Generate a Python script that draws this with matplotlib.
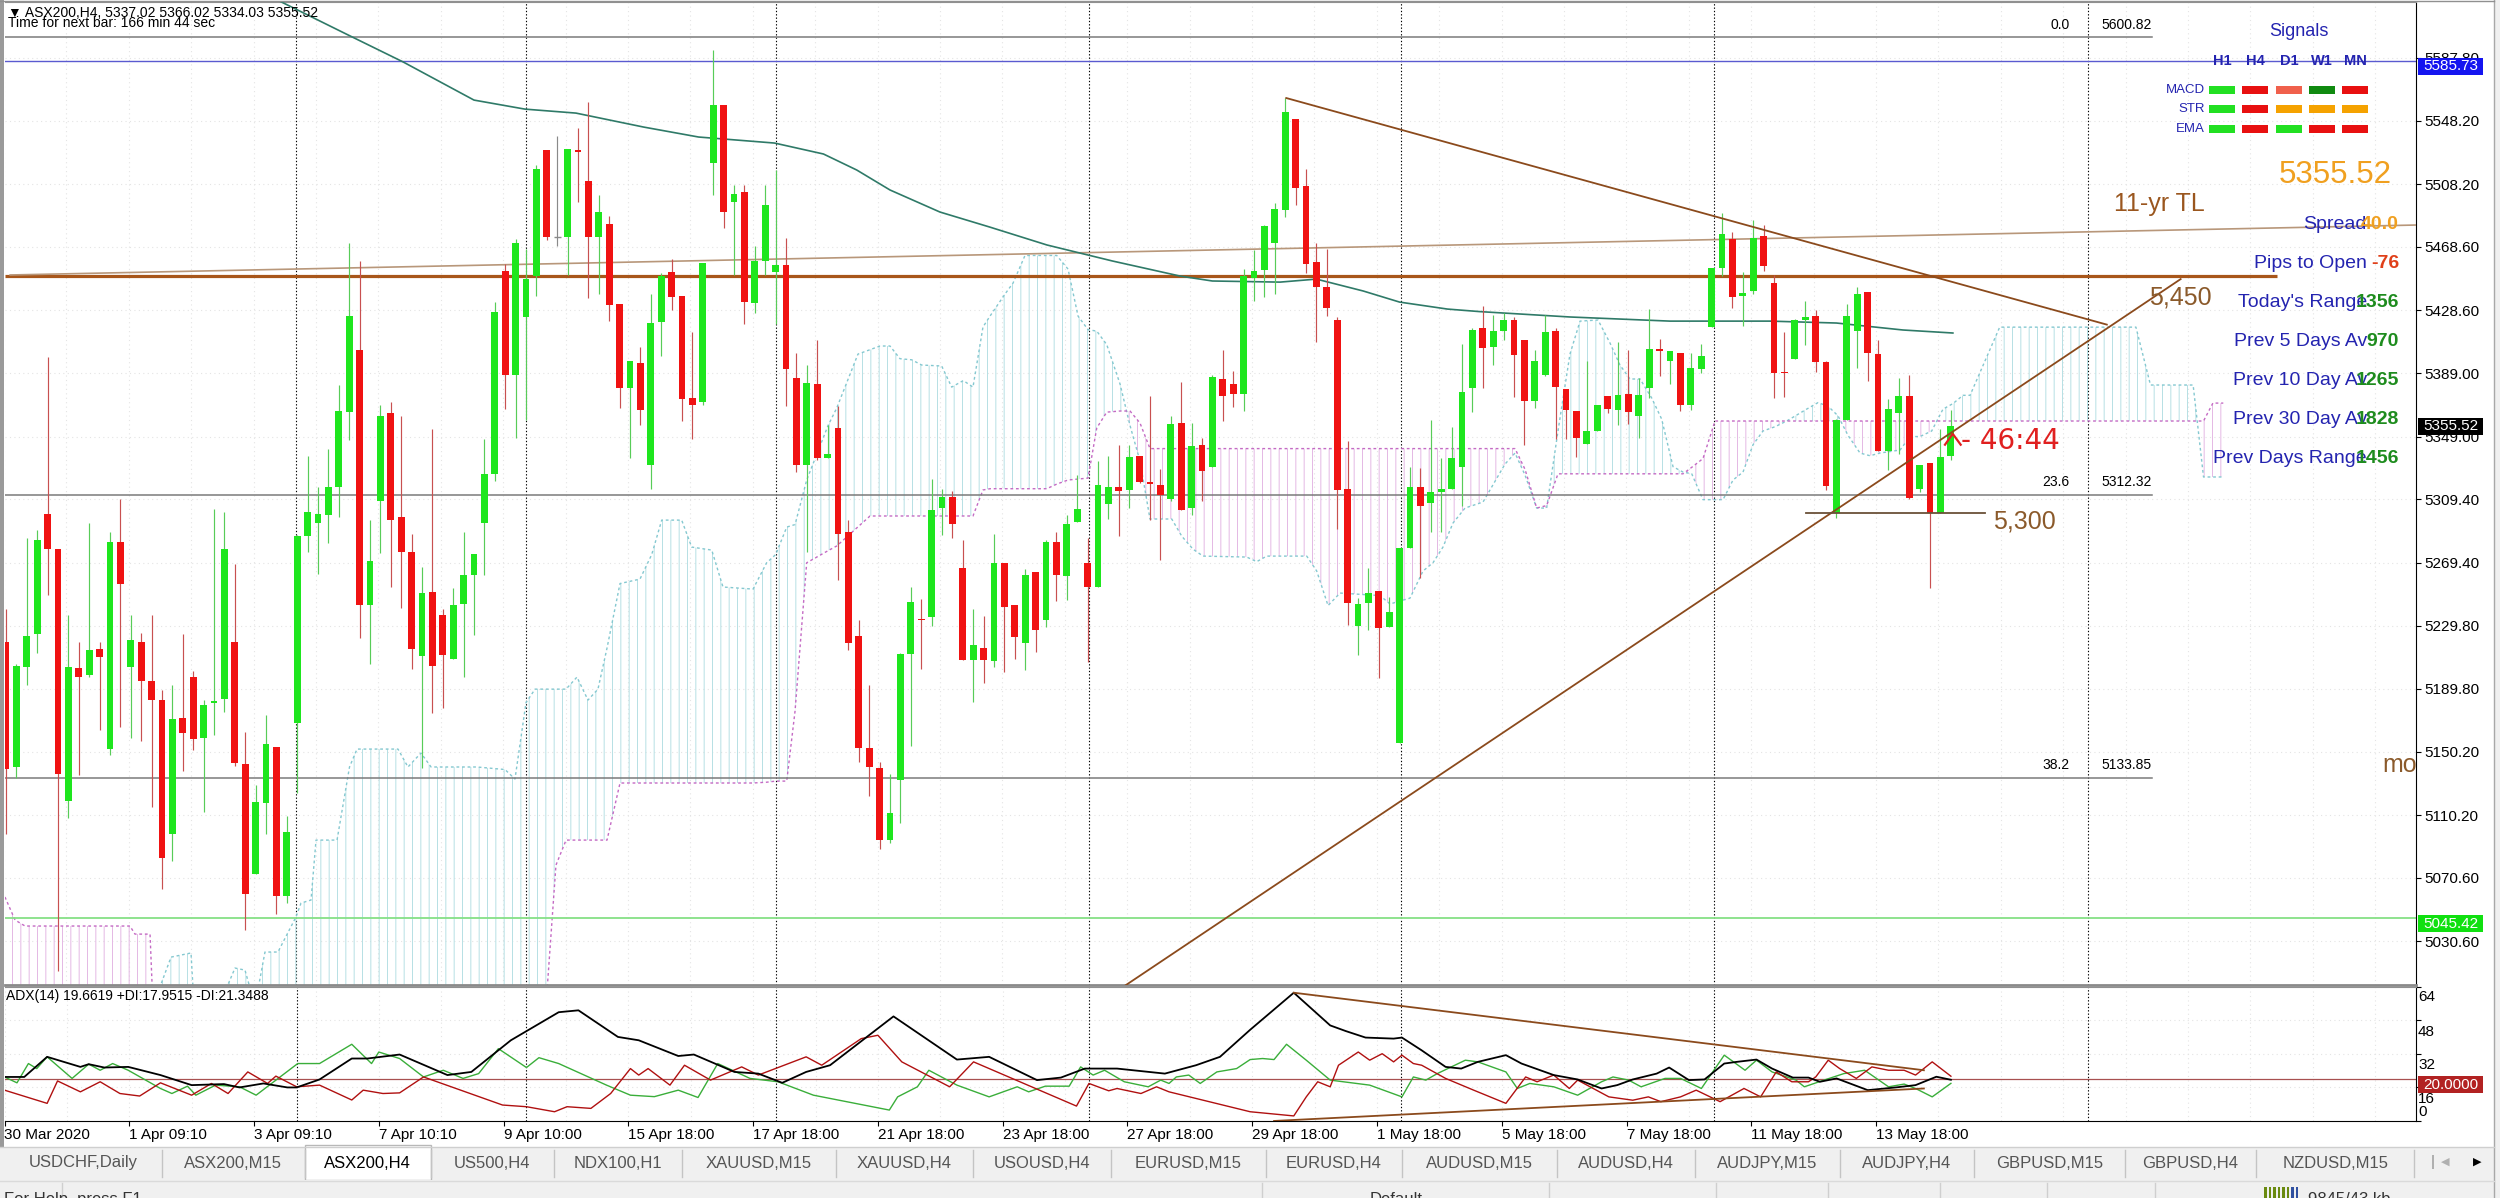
import numpy as np
import matplotlib
matplotlib.use("Agg")
import matplotlib.pyplot as plt
from matplotlib.patches import Rectangle
from matplotlib.lines import Line2D

plt.rcParams['font.family'] = ['Liberation Sans', 'DejaVu Sans']
plt.rcParams['hatch.linewidth'] = 0.7

# ---------------- data ----------------
opens = [
5219.4, 5140.8, 5203.4, 5224.2, 5299.9, 5278.2, 5119.0, 5203.1, 5198.6, 5214.9,
5151.9, 5282.3, 5203.8, 5219.4, 5195.1, 5183.0, 5098.3, 5171.6, 5197.6, 5158.8,
5181.0, 5183.7, 5219.4, 5142.5, 5073.4, 5118.0, 5152.9, 5059.5, 5168.5, 5286.1,
5294.4, 5299.6, 5317.2, 5364.6, 5403.7, 5242.9, 5308.6, 5363.9, 5298.2, 5276.4,
5210.7, 5251.2, 5236.7, 5209.0, 5243.6, 5261.9, 5294.4, 5325.5, 5453.5, 5387.8,
5424.5, 5450.1, 5529.6, 5474.6, 5474.6, 5529.6, 5509.9, 5474.6, 5483.3, 5432.8,
5379.5, 5395.4, 5331.1, 5421.4, 5452.8, 5437.9, 5373.3, 5370.8, 5521.3, 5558.3,
5497.1, 5503.0, 5433.5, 5459.8, 5452.8, 5457.0, 5386.1, 5331.1, 5381.9, 5335.2,
5354.3, 5288.5, 5223.5, 5152.6, 5139.8, 5094.8, 5132.2, 5211.7, 5234.2, 5234.9,
5304.1, 5311.0, 5266.0, 5208.3, 5215.9, 5207.2, 5269.5, 5242.5, 5218.7, 5263.3,
5233.2, 5282.7, 5260.9, 5295.4, 5269.5, 5253.9, 5306.5, 5317.2, 5315.2, 5337.0,
5320.3, 5318.6, 5309.3, 5357.7, 5304.1, 5343.9, 5330.1, 5385.4, 5381.9, 5375.7,
5448.7, 5453.9, 5470.8, 5491.9, 5549.0, 5507.1, 5459.1, 5443.2, 5422.7, 5316.2,
5229.7, 5244.3, 5251.5, 5228.7, 5156.0, 5278.8, 5317.2, 5306.9, 5313.8, 5316.2,
5330.0, 5379.5, 5417.6, 5405.4, 5415.5, 5422.4, 5409.6, 5371.5, 5388.1, 5415.5,
5379.2, 5365.3, 5344.6, 5352.5, 5374.3, 5365.6, 5375.7, 5362.2, 5379.5, 5404.4,
5396.4, 5402.0, 5369.1, 5391.6, 5418.3, 5455.6, 5473.6, 5437.9, 5440.7, 5475.3,
5445.9, 5389.5, 5398.2, 5422.7, 5425.2, 5395.8, 5300.6, 5359.4, 5415.8, 5440.0,
5400.9, 5339.7, 5363.6, 5374.3, 5316.2, 5332.5, 5300.6, 5337.02]
highs = [
5240.1, 5205.5, 5285.1, 5290.3, 5399.2, 5278.2, 5236.7, 5219.4, 5294.4, 5219.4,
5288.5, 5309.3, 5236.7, 5225.2, 5236.7, 5189.3, 5192.4, 5224.5, 5201.0, 5183.0,
5303.4, 5301.3, 5268.5, 5162.9, 5129.4, 5173.3, 5152.9, 5109.4, 5286.8, 5336.9,
5317.2, 5341.1, 5381.2, 5470.8, 5459.8, 5296.5, 5369.1, 5370.9, 5362.2, 5287.8,
5266.7, 5353.6, 5240.1, 5253.2, 5288.5, 5274.7, 5347.3, 5433.8, 5458.0, 5473.6,
5467.4, 5520.3, 5529.6, 5538.6, 5530.3, 5543.8, 5560.1, 5501.3, 5488.1, 5432.8,
5396.4, 5405.4, 5439.0, 5452.1, 5460.8, 5437.9, 5414.8, 5458.7, 5593.0, 5558.3,
5507.5, 5507.5, 5469.4, 5507.5, 5516.8, 5474.3, 5401.6, 5394.0, 5409.6, 5356.0,
5368.1, 5296.5, 5233.2, 5192.4, 5143.9, 5136.3, 5212.4, 5253.9, 5246.3, 5322.1,
5316.2, 5314.5, 5284.0, 5240.1, 5235.6, 5287.5, 5269.5, 5242.5, 5265.4, 5263.3,
5284.0, 5288.5, 5299.6, 5324.9, 5285.1, 5333.5, 5336.9, 5343.9, 5343.9, 5337.0,
5374.3, 5328.3, 5362.2, 5383.7, 5357.7, 5348.4, 5387.8, 5403.4, 5390.6, 5454.6,
5466.7, 5482.2, 5496.1, 5562.5, 5549.0, 5517.5, 5471.1, 5467.4, 5424.5, 5346.3,
5247.0, 5266.0, 5251.5, 5248.1, 5278.8, 5330.0, 5329.0, 5359.4, 5335.2, 5355.3,
5407.2, 5417.6, 5431.4, 5425.9, 5426.9, 5424.5, 5409.6, 5403.7, 5425.9, 5417.6,
5379.2, 5365.3, 5396.8, 5369.1, 5374.3, 5408.6, 5403.4, 5386.1, 5429.7, 5410.3,
5402.7, 5402.0, 5401.6, 5407.2, 5455.6, 5490.2, 5477.7, 5452.8, 5485.7, 5482.2,
5451.1, 5414.8, 5423.4, 5434.5, 5428.6, 5396.8, 5360.1, 5432.8, 5443.2, 5440.0,
5409.6, 5372.6, 5386.1, 5388.1, 5331.1, 5332.5, 5353.6, 5366.02]
lows = [
5098.3, 5133.9, 5192.4, 5212.4, 5248.8, 5012.0, 5108.7, 5135.3, 5197.6, 5164.0,
5148.4, 5165.7, 5158.8, 5157.1, 5115.6, 5063.7, 5081.0, 5138.1, 5151.2, 5112.1,
5160.5, 5175.4, 5141.5, 5037.8, 5073.4, 5098.3, 5048.1, 5055.0, 5124.2, 5276.4,
5262.6, 5281.6, 5298.2, 5346.6, 5221.8, 5205.5, 5275.7, 5253.9, 5241.1, 5202.7,
5139.8, 5174.4, 5177.8, 5209.0, 5197.6, 5223.8, 5261.9, 5320.7, 5366.3, 5348.4,
5359.4, 5437.9, 5472.9, 5469.4, 5451.1, 5497.1, 5436.2, 5439.0, 5421.7, 5367.0,
5335.2, 5356.0, 5316.2, 5399.9, 5428.6, 5358.7, 5347.3, 5369.1, 5501.3, 5480.5,
5451.1, 5420.0, 5426.9, 5451.1, 5420.0, 5368.1, 5326.6, 5276.4, 5334.5, 5335.2,
5258.4, 5214.2, 5143.9, 5122.5, 5088.9, 5092.4, 5105.2, 5153.6, 5202.7, 5229.7,
5286.8, 5285.1, 5208.3, 5181.3, 5193.4, 5203.8, 5200.3, 5209.0, 5202.0, 5213.1,
5228.7, 5245.3, 5246.0, 5295.4, 5206.6, 5253.9, 5297.2, 5286.1, 5304.1, 5319.7,
5296.5, 5271.2, 5308.3, 5302.4, 5299.6, 5308.3, 5330.1, 5358.7, 5367.4, 5365.3,
5434.5, 5437.3, 5439.0, 5487.4, 5495.0, 5452.1, 5408.9, 5425.2, 5291.0, 5230.4,
5211.4, 5227.3, 5196.9, 5228.7, 5156.0, 5278.8, 5259.8, 5288.5, 5288.5, 5316.2,
5305.1, 5364.6, 5379.5, 5394.0, 5409.6, 5374.0, 5343.9, 5367.0, 5387.1, 5347.3,
5347.3, 5335.9, 5344.6, 5352.5, 5363.6, 5356.0, 5356.7, 5348.4, 5373.3, 5387.1,
5381.9, 5365.3, 5365.6, 5388.8, 5418.3, 5450.1, 5430.3, 5418.9, 5439.0, 5453.5,
5373.3, 5374.0, 5398.2, 5406.8, 5389.9, 5315.2, 5297.9, 5359.4, 5392.3, 5384.3,
5339.7, 5327.6, 5338.0, 5309.3, 5313.8, 5253.2, 5300.6, 5334.03]
closes = [
5139.1, 5204.5, 5223.2, 5284.0, 5278.2, 5136.3, 5203.8, 5197.6, 5214.2, 5210.0,
5282.7, 5255.7, 5220.4, 5195.1, 5183.0, 5083.4, 5170.6, 5162.3, 5158.1, 5179.6,
5182.0, 5278.2, 5143.2, 5060.2, 5118.3, 5155.4, 5059.5, 5099.3, 5286.1, 5301.7,
5299.9, 5316.9, 5365.3, 5425.2, 5242.9, 5270.5, 5361.9, 5296.1, 5276.4, 5215.2,
5250.5, 5204.5, 5211.4, 5242.9, 5261.9, 5274.7, 5325.5, 5427.6, 5387.8, 5470.8,
5448.3, 5517.9, 5474.6, 5474.6, 5530.3, 5528.2, 5474.6, 5490.5, 5432.1, 5379.5,
5396.4, 5365.6, 5420.3, 5450.1, 5437.3, 5372.6, 5369.1, 5458.7, 5558.3, 5490.9,
5501.9, 5433.8, 5459.8, 5495.0, 5457.0, 5391.6, 5331.1, 5383.0, 5335.2, 5338.0,
5287.8, 5218.7, 5152.6, 5140.5, 5094.8, 5111.4, 5211.7, 5244.6, 5233.2, 5302.4,
5311.0, 5293.7, 5208.3, 5217.6, 5208.3, 5269.5, 5241.8, 5222.8, 5261.9, 5227.0,
5282.7, 5261.6, 5293.7, 5303.1, 5253.9, 5318.6, 5317.2, 5314.5, 5335.9, 5320.3,
5319.0, 5312.0, 5357.0, 5302.4, 5342.8, 5327.3, 5386.4, 5374.3, 5376.0, 5450.1,
5453.5, 5481.5, 5492.6, 5553.8, 5505.8, 5458.0, 5443.5, 5430.3, 5315.2, 5244.3,
5243.6, 5250.5, 5228.0, 5238.4, 5278.8, 5317.2, 5305.1, 5313.8, 5316.2, 5335.2,
5377.4, 5416.2, 5405.1, 5415.5, 5422.7, 5400.3, 5371.5, 5396.8, 5414.8, 5380.2,
5365.6, 5348.0, 5352.5, 5369.1, 5366.3, 5375.0, 5364.6, 5375.0, 5404.4, 5402.7,
5402.7, 5369.1, 5392.3, 5399.9, 5455.6, 5477.0, 5437.3, 5439.7, 5474.3, 5456.3,
5388.8, 5388.8, 5422.4, 5424.1, 5395.8, 5317.9, 5359.4, 5425.2, 5439.0, 5401.6,
5339.7, 5366.3, 5374.3, 5310.3, 5331.1, 5300.6, 5336.3, 5355.52]

# moving average (read at knots: bar index, price)
ema_bar = [26.1, 32.7, 38.2, 45.0, 49.9, 54.8, 61.3, 66.6, 73.9, 78.6, 81.8, 85.0, 89.8, 94.6,
           100.1, 106.4, 112.9, 116.0, 122.5, 126.0, 130.5, 134.0, 138.6, 141.7, 150.4, 160.0,
           169.6, 176.0, 182.4, 187.2]
ema_val = [5624.3, 5602.9, 5585.2, 5561.2, 5555.5, 5553.0, 5544.2, 5537.9, 5534.1, 5527.2,
           5517.1, 5504.5, 5490.6, 5481.1, 5469.8, 5459.7, 5450.2, 5447.1, 5446.4, 5448.3,
           5440.8, 5433.8, 5429.4, 5427.8, 5424.4, 5421.8, 5421.8, 5420.6, 5416.2, 5414.3]

# Ichimoku cloud (bar index, span A, span B); 4990 = below visible range
OFF = 4990.0
cloud_bar = [-0.10, 0.87, 1.83, 11.92, 12.40, 13.85, 14.13, 15.87, 17.79, 18.08, 20.48, 22.02,
             22.98, 23.94, 24.90, 26.15, 27.88, 28.37, 29.33, 29.81, 31.83, 33.03, 33.75, 37.69,
             38.65, 39.90, 40.87, 45.29, 47.98, 48.94, 50.0, 50.87, 51.92, 52.88, 53.85, 54.90,
             55.96, 56.92, 57.79, 59.04, 60.96, 62.09, 63.05, 64.97, 65.93, 67.86, 68.94, 71.83,
             73.14, 74.01, 75.07, 75.87, 76.99, 79.04, 79.88, 81.92, 83.08, 84.04, 85.0, 85.96,
             87.09, 88.05, 89.97, 90.93, 92.05, 92.98, 93.94, 94.62, 96.06, 96.83, 97.98, 100.07,
             101.03, 102.12, 103.08, 104.04, 104.88, 105.84, 107.12, 108.08, 109.04, 110.0, 112.09,
             113.05, 114.13, 115.10, 119.30, 120.26, 121.22, 125.07, 126.03, 127.12, 128.27,
             132.12, 133.08, 135.0, 136.25, 137.21, 138.17, 139.13, 140.29, 142.02, 144.13,
             145.10, 146.06, 147.18, 148.14, 149.23, 150.38, 151.35, 153.08, 154.23, 155.19,
             156.15, 157.12, 158.24, 159.20, 160.29, 161.25, 162.09, 163.17, 164.33, 165.10,
             166.06, 167.02, 167.98, 168.94, 170.10, 171.22, 173.14, 174.23, 175.19, 176.15,
             177.12, 178.27, 179.23, 180.19, 182.12, 183.08, 184.04, 185.16, 186.25, 187.21,
             188.17, 188.85, 191.7, 204.8, 206.2, 210.3, 211.3, 212.2, 213.2]
span_a = [OFF, OFF, OFF, OFF, OFF, OFF, OFF, 5020.7, 5023.3, OFF, OFF, 5013.8,
          5012.5, OFF, 5023.9, 5023.9, 5046.0, 5054.8, 5056.7, 5094.5, 5094.5, 5140.6, 5151.9, 5151.9,
          5140.6, 5149.4, 5140.6, 5140.6, 5139.0, 5133.0, 5181.2, 5189.7, 5189.7, 5189.7, 5189.7, 5197.3,
          5182.8, 5189.7, 5215.6, 5256.3, 5259.1, 5274.6, 5296.3, 5296.3, 5279.3, 5277.4, 5254.1, 5252.8,
          5269.4, 5274.6, 5291.9, 5293.5, 5321.6, 5355.9, 5367.0, 5401.0, 5403.8, 5406.1, 5406.1, 5398.1,
          5397.4, 5394.1, 5393.5, 5380.2, 5384.3, 5380.2, 5418.1, 5425.0, 5438.9, 5445.8, 5463.2, 5463.2,
          5463.2, 5454.6, 5425.0, 5416.4, 5415.5, 5407.0, 5382.1, 5355.9, 5333.5, 5297.0, 5297.0,
          5286.2, 5278.0, 5273.6, 5273.0, 5270.1, 5273.6, 5273.6, 5264.2, 5242.4, 5250.3,
          5248.7, 5243.4, 5247.1, 5264.2, 5269.4, 5279.3, 5294.4, 5303.9, 5307.7, 5331.6,
          5338.6, 5324.7, 5303.9, 5303.9, 5352.5, 5401.0, 5421.8, 5422.5, 5408.0, 5394.1,
          5385.3, 5385.3, 5373.3, 5360.0, 5330.0, 5326.6, 5325.5, 5309.2, 5309.2, 5309.2,
          5321.6, 5326.6, 5343.8, 5352.5, 5355.2, 5358.8, 5366.3, 5370.4, 5368.2, 5362.1,
          5349.7, 5338.6, 5336.9, 5338.6, 5340.5, 5349.0, 5349.0, 5352.5, 5366.3, 5369.8,
          5375.0, 5375.0, 5418.0, 5418.0, 5381.5, 5381.5, 5323.5, 5323.5, 5323.5]
span_b = [5058.6, 5044.1, 5040.3, 5040.3, 5035.2, 5035.2, OFF, OFF, OFF, OFF, OFF, OFF,
          OFF, OFF, OFF, OFF, OFF, OFF, OFF, OFF, OFF, OFF, OFF, OFF,
          OFF, OFF, OFF, OFF, OFF, OFF, OFF, OFF, OFF, 5078.7, 5094.5, 5094.5,
          5094.5, 5094.5, 5094.5, 5130.5, 5130.5, 5130.5, 5130.5, 5130.5, 5130.5, 5130.5, 5130.5, 5130.5,
          5131.0, 5131.7, 5131.7, 5175.9, 5269.4, 5277.0, 5280.0, 5292.0, 5298.9, 5298.9, 5298.9, 5298.9,
          5298.9, 5298.9, 5298.9, 5298.9, 5298.9, 5298.9, 5315.3, 5316.1, 5316.1, 5316.1, 5316.1, 5316.1,
          5319.0, 5321.6, 5322.2, 5322.8, 5354.4, 5364.4, 5365.1, 5365.1, 5357.5, 5341.4, 5341.4,
          5341.4, 5341.4, 5341.4, 5341.4, 5341.4, 5341.4, 5341.4, 5341.4, 5341.4, 5341.4,
          5341.4, 5341.4, 5341.4, 5341.4, 5341.4, 5341.4, 5341.4, 5341.4, 5341.4, 5341.4,
          5341.4, 5328.3, 5303.9, 5305.5, 5325.5, 5325.5, 5325.5, 5325.5, 5325.5, 5325.5,
          5325.5, 5325.5, 5325.5, 5325.5, 5325.5, 5325.5, 5329.6, 5335.1, 5358.8, 5358.8,
          5358.8, 5358.8, 5358.8, 5358.8, 5358.8, 5358.8, 5358.8, 5358.8, 5358.8, 5358.8,
          5358.8, 5358.8, 5358.8, 5358.8, 5358.8, 5358.8, 5358.8, 5358.8, 5358.8, 5358.8,
          5358.8, 5358.8, 5358.8, 5358.8, 5358.8, 5358.8, 5358.8, 5370.1, 5370.1]

# ADX(14) knots (bar index, value)
adx_bar = [-0.2, 1.7, 3.9, 7.1, 7.9, 9.4, 11.7, 14.8, 17.8, 20.9, 22.4, 24.7, 27.0, 27.9, 30.1, 33.2,
           34.7, 37.8, 42.4, 44.7, 48.5, 53.1, 55.0, 58.8, 60.8, 64.6, 66.1, 70.0, 72.3, 74.6, 76.9,
           79.2, 85.3, 91.4, 94.5, 99.1, 101.4, 103.7, 106.8, 111.4, 114.4, 116.7, 119.6, 123.8,
           127.3, 128.8, 130.7, 133.4, 134.2, 136.1, 138.4, 139.9, 141.5, 144.2, 145.7, 148.8, 151.1,
           153.4, 154.9, 156.4, 158.7, 159.9, 161.8, 163.3, 165.2, 166.4, 168.3, 169.8, 171.8, 173.3,
           174.4, 176.0, 179.0, 181.7, 183.6, 185.6, 187.0]
adx_val = [21.0, 21.0, 30.6, 25.8, 27.1, 25.5, 25.8, 21.9, 17.1, 17.6, 16.0, 17.9, 16.0, 16.0, 19.8,
           29.8, 29.8, 31.7, 21.9, 23.4, 38.5, 51.9, 52.8, 40.1, 38.5, 31.0, 31.7, 23.4, 22.6, 18.2,
           23.4, 26.6, 49.9, 29.3, 30.6, 19.5, 20.7, 25.0, 25.0, 22.6, 26.6, 30.6, 43.5, 61.2, 45.6,
           42.9, 39.8, 39.3, 39.8, 33.7, 25.8, 25.0, 28.2, 31.4, 27.4, 21.9, 19.8, 15.5, 17.1, 19.8,
           22.6, 25.5, 19.5, 19.8, 27.4, 28.2, 29.3, 25.0, 20.7, 20.7, 18.7, 20.3, 14.7, 16.0, 17.1,
           21.1, 19.66]
pdi_bar = [-0.2, 1.0, 2.1, 2.9, 3.9, 6.3, 7.9, 9.0, 10.2, 11.7, 14.8, 15.9, 17.4, 18.2, 20.1, 22.4,
           24.0, 28.0, 30.1, 33.2, 35.1, 35.8, 37.8, 40.1, 42.0, 43.9, 45.4, 47.3, 50.0, 51.2, 53.1,
           57.7, 60.0, 62.3, 64.6, 66.5, 68.4, 71.5, 74.2, 77.6, 84.9, 85.7, 87.6, 88.7, 91.4, 94.5,
           97.2, 98.3, 99.9, 102.2, 103.3, 104.5, 105.6, 107.5, 109.8, 111.0, 111.8, 112.5, 113.7,
           114.8, 116.4, 118.3, 119.6, 120.8, 121.9, 123.1, 125.0, 127.3, 131.1, 134.2, 135.3, 136.5,
           137.6, 140.3, 141.5, 144.2, 145.3, 146.5, 148.8, 151.1, 153.4, 154.5, 156.0, 157.2, 159.5,
           161.0, 163.0, 165.2, 167.2, 168.3, 169.8, 172.1, 172.9, 174.8, 176.7, 178.7, 181.0, 182.5,
           183.6, 185.2, 187.0]
pdi_val = [21.0, 18.2, 27.4, 25.0, 30.6, 20.3, 27.1, 24.2, 27.4, 24.2, 15.5, 13.1, 16.6, 12.3, 17.1,
           16.3, 12.3, 27.4, 27.4, 36.6, 27.4, 32.9, 29.8, 21.0, 24.2, 20.3, 22.6, 34.5, 25.5, 30.2,
           27.4, 17.1, 12.3, 11.6, 14.7, 11.2, 27.4, 20.3, 18.7, 12.3, 5.2, 11.5, 16.3, 24.2, 17.1,
           11.5, 16.3, 13.9, 16.6, 16.6, 25.8, 21.9, 24.2, 18.7, 16.3, 19.5, 17.9, 21.0, 21.9, 17.9,
           23.4, 25.0, 29.3, 29.8, 29.3, 36.6, 29.0, 19.5, 17.1, 11.5, 21.0, 19.5, 22.6, 29.0, 28.2,
           23.4, 15.5, 17.9, 16.3, 12.3, 18.7, 21.0, 19.5, 16.3, 20.3, 20.3, 15.5, 31.4, 24.2, 29.0,
           23.4, 19.5, 16.3, 19.5, 22.6, 24.2, 16.3, 17.6, 15.5, 11.5, 17.95]
mdi_bar = [-0.2, 3.9, 4.9, 7.1, 9.0, 10.9, 12.8, 14.8, 17.8, 19.7, 21.3, 23.2, 25.1, 25.9, 27.9, 30.1,
           33.2, 34.3, 36.2, 37.8, 40.1, 47.7, 50.0, 52.7, 53.9, 56.2, 58.1, 60.0, 60.8, 61.7, 63.8,
           65.2, 67.7, 70.7, 72.3, 76.9, 78.4, 82.2, 83.8, 86.1, 90.7, 93.0, 102.9, 104.1, 106.0,
           106.8, 109.1, 110.6, 111.8, 119.6, 123.8, 125.0, 126.1, 127.3, 128.1, 130.0, 131.1, 132.3,
           133.4, 134.2, 135.3, 136.1, 138.4, 141.1, 144.2, 146.1, 147.2, 148.8, 150.3, 151.1, 152.6,
           154.1, 156.4, 157.9, 159.1, 161.0, 162.5, 164.8, 167.1, 168.7, 170.2, 171.7, 173.3, 174.0,
           175.2, 176.3, 177.9, 179.4, 181.0, 182.5, 183.6, 185.2, 187.0]
mdi_val = [14.7, 8.4, 19.1, 13.9, 18.7, 13.1, 11.9, 18.2, 12.3, 17.9, 13.1, 23.4, 17.9, 21.4, 16.3,
           17.1, 10.0, 14.7, 13.1, 13.4, 21.0, 7.6, 6.8, 4.4, 6.8, 6.0, 13.1, 25.0, 21.9, 25.0, 17.1,
           26.6, 19.5, 25.8, 21.9, 30.6, 26.6, 39.3, 40.9, 28.2, 16.3, 28.2, 7.1, 17.9, 14.4, 15.5,
           13.1, 16.3, 13.9, 4.4, 2.4, 11.5, 18.7, 16.3, 26.6, 32.9, 29.0, 32.1, 28.2, 31.4, 27.4,
           26.6, 20.3, 14.7, 8.4, 21.0, 18.7, 21.9, 15.5, 19.5, 15.5, 11.5, 9.9, 11.5, 9.2, 11.5,
           14.7, 9.2, 15.5, 11.5, 23.4, 18.7, 18.7, 21.0, 29.0, 25.0, 20.3, 25.8, 24.2, 24.2, 21.9,
           28.2, 21.35]

# levels and drawn objects
fib_levels = [("0.0", 5600.82), ("23.6", 5312.32), ("38.2", 5133.85)]
ask_line = 5585.73
low_line = 5045.42
bid_price = 5355.52
level_5450 = 5450.3
tl11_bar, tl11_val = [0.4, 231.7], [5450.9, 5482.4]
down_bar, down_val = [123.1, 202.0], [5562.5, 5419.6]
up_bar, up_val = [107.6, 209.1], [5002.7, 5448.3]
l5300_bar, l5300_val = [173.1, 190.3], [5300.6, 5300.6]
adx_down_bar, adx_down_val = [123.8, 184.4], [61.2, 24.2]
adx_up_bar, adx_up_val = [121.9, 184.4], [0.0, 15.5]
adx_level = 20.0
sep_bars = [27.9, 50.0, 74.0, 104.1, 134.1, 164.2, 200.2]

price_ticks = [5587.80, 5548.20, 5508.20, 5468.60, 5428.60, 5389.00, 5349.00, 5309.40,
               5269.40, 5229.80, 5189.80, 5150.20, 5110.20, 5070.60, 5030.60]
xlabel_bars = [0, 12, 24, 36, 48, 60, 72, 84, 96, 108, 120, 132, 144, 156, 168, 180]
xlabels = ["30 Mar 2020", "1 Apr 09:10", "3 Apr 09:10", "7 Apr 10:10", "9 Apr 10:00",
           "15 Apr 18:00", "17 Apr 18:00", "21 Apr 18:00", "23 Apr 18:00", "27 Apr 18:00",
           "29 Apr 18:00", "1 May 18:00", "5 May 18:00", "7 May 18:00", "11 May 18:00",
           "13 May 18:00"]
tabs = ["USDCHF,Daily", "ASX200,M15", "ASX200,H4", "US500,H4", "NDX100,H1", "XAUUSD,M15",
        "XAUUSD,H4", "USOUSD,H4", "EURUSD,M15", "EURUSD,H4", "AUDUSD,M15", "AUDUSD,H4",
        "AUDJPY,M15", "AUDJPY,H4", "GBPUSD,M15", "GBPUSD,H4", "NZDUSD,M15"]
tab_edges = [5, 162, 304.6, 430.6, 554, 681.8, 835.7, 973, 1110.8, 1266, 1401.5, 1557, 1695,
             1840, 1974, 2124.8, 2256.4, 2414]
sig_rows = ["MACD", "STR", "EMA"]
sig_cols = ["H1", "H4", "D1", "W1", "MN"]
sig_colors = [["#22e022", "#e81010", "#f0604c", "#108a10", "#e81010"],
              ["#22e022", "#e81010", "#f5a200", "#f5a200", "#f5a200"],
              ["#22e022", "#e81010", "#22e022", "#e81010", "#e81010"]]
info_labels = ["Spread", "Pips to Open", "Today's Range", "Prev 5 Days Av", "Prev 10 Day Av",
               "Prev 30 Day Av", "Prev Days Range"]
info_values = ["40.0", "-76", "1356", "970", "1265", "1828", "1456"]
info_colors = ["#f0a020", "#e0401a", "#1e8c1e", "#1e8c1e", "#1e8c1e", "#1e8c1e", "#1e8c1e"]

# ---------------- figure ----------------
W, H = 2500, 1198
fig = plt.figure(figsize=(W / 100, H / 100), dpi=100)
fig.patch.set_facecolor("white")

def box(x0, y0, x1, y1):
    return [x0 / W, 1 - y1 / H, (x1 - x0) / W, (y1 - y0) / H]

ax = fig.add_axes(box(4.5, 2, 2416, 984.6))
adx = fig.add_axes(box(4.5, 986.5, 2416, 1121))
XL = (-0.144, 231.73)
ax.set_xlim(*XL); adx.set_xlim(*XL)
ax.set_ylim(5003.36, 5623.06)
adx.set_ylim(-0.02, 64.17)

BULL, BEAR, DOJI = "#1ee61e", "#f01212", "#8a8a8a"
BLUE_T = "#2424b0"
BROWN = "#8b4a1c"
GRID = "#e4e4e4"

for a in (ax, adx):
    a.set_facecolor("white")
    for k in range(0, 39):
        a.axvline(6 * k - 0.2, color=GRID, lw=0.8, ls=(0, (1, 3)), zorder=0)
    for b in sep_bars:
        a.axvline(b, color="black", lw=0.8, ls=(0, (1.2, 1.8)), zorder=1)
for p in price_ticks:
    ax.axhline(p, color=GRID, lw=0.8, ls=(0, (1, 3)), zorder=0)
for p in (16, 32, 48):
    adx.axhline(p, color=GRID, lw=0.8, ls=(0, (1, 3)), zorder=0)

# ichimoku cloud
cb = np.array(cloud_bar); sa = np.array(span_a); sb = np.array(span_b)
ax.fill_between(cb, sa, sb, where=sa >= sb, interpolate=True, facecolor="none",
                edgecolor="#b6e0e4", hatch="||", linewidth=0, zorder=1)
ax.fill_between(cb, sa, sb, where=sb > sa, interpolate=True, facecolor="none",
                edgecolor="#e4b8e4", hatch="||", linewidth=0, zorder=1)
ax.plot(cb, sa, color="#84c8d0", lw=1.0, ls=(0, (2, 2)), zorder=2)
ax.plot(cb, sb, color="#c46ac4", lw=1.0, ls=(0, (2, 2)), zorder=2)

# horizontal levels
for name, lv in fib_levels:
    ax.plot([XL[0], 206.3], [lv, lv], color="#7a7a7a", lw=1.1, zorder=2)
ax.axhline(ask_line, color="#5a5ad0", lw=1.0, zorder=2)
ax.axhline(low_line, color="#86e086", lw=1.3, zorder=2)
ax.plot([XL[0], 218.4], [level_5450, level_5450], color="#a8561a", lw=2.3, zorder=3,
        solid_capstyle="butt")
ax.plot(tl11_bar, tl11_val, color="#b8977a", lw=1.2, zorder=3)

# moving average
ax.plot(ema_bar, ema_val, color="#2f7a68", lw=1.2, zorder=3)

# candles
o = np.array(opens); hi = np.array(highs); lo = np.array(lows); c = np.array(closes)
xb = np.arange(len(o))
colors = np.where(c > o, BULL, np.where(c < o, BEAR, DOJI))
wick_colors = np.where(c > o, "#58cc58", np.where(c < o, "#c85050", DOJI))
ax.vlines(xb, lo, hi, colors=wick_colors, lw=0.85, zorder=4)
ax.bar(xb, np.abs(c - o), bottom=np.minimum(o, c), width=0.64, color=colors, linewidth=0, zorder=5)
eq = c == o
ax.hlines(c[eq], xb[eq] - 0.34, xb[eq] + 0.34, colors=DOJI, lw=1.0, zorder=5)

# trendlines
ax.plot(down_bar, down_val, color=BROWN, lw=1.3, zorder=6)
ax.plot(up_bar, up_val, color=BROWN, lw=1.3, zorder=6)
ax.plot(l5300_bar, l5300_val, color="#6a5038", lw=1.3, zorder=6)

# chart texts
ax.text(202.7, 5495.6, "11-yr TL", color="#9a561e", fontsize=18, va="center", ha="left", zorder=7)
ax.text(206.1, 5436.4, "5,450", color="#8b5a2b", fontsize=18, va="center", ha="left", zorder=7)
ax.text(191.1, 5295.7, "5,300", color="#8b5a2b", fontsize=18, va="center", ha="left", zorder=7)
ax.text(228.5, 5141.8, "mo", color="#8b5a2b", fontsize=18, va="center", ha="left", zorder=7,
        clip_on=True)
ax.text(188.0, 5346.2, "- 46:44", color="#e02020", fontsize=20, va="center", ha="left", zorder=7,
        family="DejaVu Sans")
for name, lv in fib_levels:
    ax.text(198.4, lv + 3.5, name, fontsize=10, ha="right", va="bottom", zorder=7)
    ax.text(206.3, lv + 3.5, f"{lv:.2f}", fontsize=10, ha="right", va="bottom", zorder=7)

# axes styling
ax.yaxis.tick_right()
ax.set_yticks(price_ticks)
ax.set_yticklabels([f"{p:.2f}" for p in price_ticks])
ax.tick_params(axis="y", direction="out", length=3.6, width=0.8, pad=2.5, labelsize=11,
               colors="black")
ax.tick_params(axis="x", bottom=False, labelbottom=False)
ax.spines["left"].set_visible(False)
ax.spines["top"].set_color("#909090")
ax.spines["right"].set_color("black")
ax.spines["bottom"].set_color("#8a8a8a"); ax.spines["bottom"].set_linewidth(2.0)

adx.plot(adx_bar, adx_val, color="black", lw=1.3, zorder=4)
adx.plot(pdi_bar, pdi_val, color="#3aae3a", lw=1.0, zorder=3)
adx.plot(mdi_bar, mdi_val, color="#b01010", lw=1.0, zorder=3)
adx.axhline(adx_level, color="#a85050", lw=0.9, zorder=2)
adx.plot(adx_down_bar, adx_down_val, color=BROWN, lw=1.3, zorder=5)
adx.plot(adx_up_bar, adx_up_val, color=BROWN, lw=1.3, zorder=5)
adx.set_yticks([0, 16, 32, 48, 64])
adx.yaxis.tick_right()
adx.tick_params(axis="y", direction="out", length=3.6, width=0.8, labelright=False)
adx.set_xticks([b - 0.2 for b in xlabel_bars])
adx.set_xticklabels(xlabels)
adx.tick_params(axis="x", direction="out", length=3.6, width=0.8, pad=1.5, labelsize=11)
for t in adx.get_xticklabels():
    t.set_ha("left")
adx.spines["left"].set_visible(False)
adx.spines["top"].set_color("#909090")
adx.text(0.0005, 0.93, "ADX(14) 19.6619 +DI:17.9515 -DI:21.3488", transform=adx.transAxes,
         fontsize=10, va="center", ha="left")

# ---------------- overlay (window chrome, panels) ----------------
ov = fig.add_axes([0, 0, 1, 1])
ov.set_xlim(0, W); ov.set_ylim(H, 0); ov.axis("off"); ov.set_zorder(10)
ov.patch.set_visible(False)

# window borders
ov.add_patch(Rectangle((0, 0), 4.2, 1147, color="#9a9a9a", lw=0))
ov.add_patch(Rectangle((2494, 0), 6, H, color="#f0f0f0", lw=0))
ov.plot([2494, 2494], [0, H], color="#a8a8a8", lw=1)
ov.plot([0, 2494], [0.8, 0.8], color="#909090", lw=1)

# header
ov.text(8, 13.3, "\u25bc ASX200,H4, 5337.02 5366.02 5334.03 5355.52", fontsize=10, va="center")
ov.text(8, 22.7, "Time for next bar: 166 min 44 sec", fontsize=10, va="center")

# price boxes on axis
def price_box(yc, txt, col):
    ov.add_patch(Rectangle((2418, yc - 8.5), 65, 17, color=col, lw=0, zorder=11))
    ov.text(2423, yc + 0.5, txt, fontsize=11, color="white", va="center", ha="left", zorder=12)
price_box(66, f"{ask_line:.2f}", "#1414f0")
price_box(426, f"{bid_price:.2f}", "black")
price_box(923, f"{low_line:.2f}", "#10e010")
price_box(1084.3, "20.0000", "#b22222")

# ADX axis labels
for txt, yc in [("64", 996.7), ("48", 1031.7), ("32", 1065.0), ("16", 1099.3), ("0", 1111.7)]:
    ov.text(2418, yc, txt, fontsize=11, va="center", ha="left")

# signals panel
ov.text(2299, 31.7, "Signals", fontsize=13, color=BLUE_T, ha="center", va="center")
col_x = [2222, 2255, 2289, 2321.5, 2355]
for cx, name in zip(col_x, sig_cols):
    ov.text(cx, 61, name, fontsize=10.5, color=BLUE_T, ha="center", va="center", fontweight="bold")
row_y = [90, 109, 129]
for ry, name, cols in zip(row_y, sig_rows, sig_colors):
    ov.text(2205, ry, name, fontsize=9.5, color=BLUE_T, ha="right", va="center")
    for cx, cc in zip(col_x, cols):
        ov.add_patch(Rectangle((cx - 13, ry - 4), 26, 8, color=cc, lw=0))
ov.text(2392, 175, f"{bid_price:.2f}", fontsize=22.5, color="#f0a020", ha="right", va="center")
info_y = [224.3, 263.3, 302.7, 341.7, 380.7, 419.3, 458.3]
for iy, lab, val, vc in zip(info_y, info_labels, info_values, info_colors):
    ov.text(2367, iy, lab, fontsize=14, color=BLUE_T, ha="right", va="center")
    ov.text(2399, iy, val, fontsize=14, color=vc, ha="right", va="center", fontweight="bold")

# caret of the countdown
ov.add_line(Line2D([1945, 1952.7, 1960.7], [444.7, 433.8, 444.7], color="#e02020", lw=1.6))

# tab bar
ov.add_patch(Rectangle((0, 1147), 2494, 33, color="#f0f0f0", lw=0))
ov.plot([0, 2494], [1147, 1147], color="#cfcfcf", lw=1)
for i, name in enumerate(tabs):
    x0, x1 = tab_edges[i], tab_edges[i + 1]
    if name == "ASX200,H4":
        ov.add_patch(Rectangle((x0, 1145), x1 - x0, 35, facecolor="white", edgecolor="#b8b8b8",
                               lw=1))
        colr = "black"
    else:
        colr = "#555555"
    ov.plot([x1, x1], [1150, 1177], color="#c4c4c4", lw=1)
    ov.text((x0 + x1) / 2, 1163, name, fontsize=12, color=colr, ha="center", va="center")
ov.text(2433, 1162, "|", fontsize=11, color="#8a8a8a", ha="center", va="center")
ov.text(2445, 1162, "\u25c0", fontsize=8, color="#b0b0b0", ha="center", va="center",
        family="DejaVu Sans")
ov.text(2477, 1162, "\u25b6", fontsize=8, color="black", ha="center", va="center",
        family="DejaVu Sans")

# status bar
ov.add_patch(Rectangle((0, 1180), 2494, 18, color="#f0f0f0", lw=0))
ov.plot([0, 2494], [1180.5, 1180.5], color="#dadada", lw=1)
for sx in [62, 1262, 1549, 1716, 1828, 1940, 2047, 2155]:
    ov.plot([sx, sx], [1183, 1198], color="#cfcfcf", lw=1)
ov.text(4, 1192, "For Help, press F1", fontsize=12, color="#333333", va="top", ha="left")
ov.text(1370, 1192, "Default", fontsize=12, color="#333333", va="top", ha="left")
for k in range(8):
    ov.add_patch(Rectangle((2264 + 4.5 * k, 1187), 2.5, 11, color="#6a8a10" if k < 6 else "#3050a0",
                           lw=0))
ov.text(2308, 1192, "9845/43 kb", fontsize=12, color="#333333", va="top", ha="left")

fig.savefig("out.png", dpi=100)
